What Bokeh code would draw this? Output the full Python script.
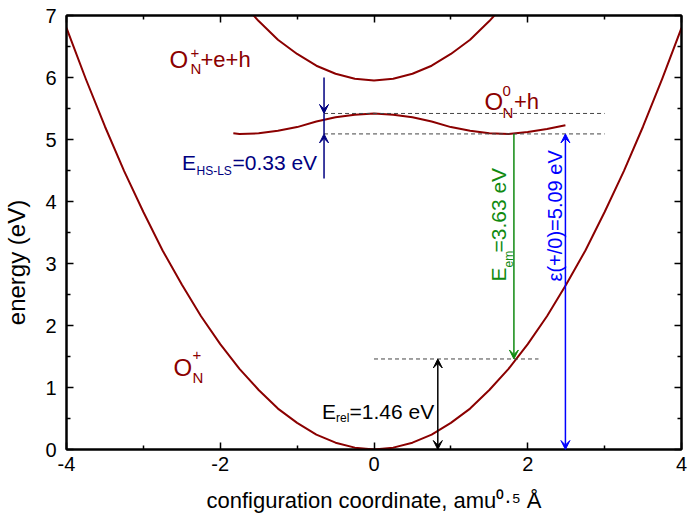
import numpy as np
from bokeh.plotting import figure
from bokeh.models import (Range1d, FixedTicker, LinearAxis, Label, Arrow, VeeHead,
                          CustomJSTickFormatter)
from bokeh.embed import file_html
from bokeh.resources import INLINE

# ---------------- data ----------------
# ground state O_N^+ parabola
q_ground = [-4.0, -3.75, -3.5, -3.25, -3.0, -2.75, -2.5, -2.25, -2.0, -1.75, -1.5, -1.25,
            -1.0, -0.75, -0.5, -0.25, 0.0, 0.25, 0.5, 0.75, 1.0, 1.25, 1.5, 1.75, 2.0,
            2.25, 2.5, 2.75, 3.0, 3.25, 3.5, 3.75, 4.0]
e_ground = [6.80, 5.98, 5.21, 4.49, 3.83, 3.21, 2.66, 2.15, 1.70, 1.30, 0.96, 0.66,
            0.43, 0.24, 0.11, 0.03, 0.00, 0.03, 0.11, 0.24, 0.43, 0.66, 0.96, 1.30, 1.70,
            2.15, 2.66, 3.21, 3.83, 4.49, 5.21, 5.98, 6.80]
# O_N^+ + e + h parabola
q_excited = [-1.75, -1.5, -1.25, -1.0, -0.75, -0.5, -0.25, 0.0, 0.25, 0.5, 0.75, 1.0,
             1.25, 1.5, 1.75]
e_excited = [7.25, 6.91, 6.61, 6.38, 6.19, 6.06, 5.98, 5.95, 5.98, 6.06, 6.19, 6.38,
             6.61, 6.91, 7.25]
# O_N^0 + h double well
q_neutral = [-1.83, -1.75, -1.5, -1.25, -1.0, -0.75, -0.5, -0.25, 0.0, 0.25, 0.5, 0.75,
             1.0, 1.25, 1.5, 1.75, 2.0, 2.25, 2.49]
e_neutral = [5.10, 5.09, 5.10, 5.14, 5.20, 5.29, 5.36, 5.40, 5.42, 5.40, 5.36, 5.29,
             5.20, 5.14, 5.10, 5.09, 5.12, 5.17, 5.23]

# energies (eV)
E_max_neutral = 5.42
eps_level = 5.09
E_rel = 1.46
E_zero = 0.0
E_hs_top = 6.0
E_hs_bottom = 4.37
# arrow coordinates (configuration coordinate)
q_hs = -0.65
q_rel = 0.83
q_em = 1.82
q_eps = 2.49
q_dash_hi = [-0.65, 3.0]
q_dash_lo = [0.0, 2.14]

x_ticks = [-4, -2, 0, 2, 4]
x_tick_labels = ["-4", "-2", "0", "2", "4"]
x_minor = [-3, -1, 1, 3]
y_ticks = [0, 1, 2, 3, 4, 5, 6, 7]
y_tick_labels = ["0", "1", "2", "3", "4", "5", "6", "7"]
y_minor = [0.5, 1.5, 2.5, 3.5, 4.5, 5.5, 6.5]

x_title = "configuration coordinate, amu\u2070\u00b7\u2075 \u00c5"
y_title = "energy (eV)"

FONT = "Liberation Sans"
WINE = "#8b0000"
NAVY = "#000080"
GREEN = "#108a10"
BLUE = "#0000ff"

p = figure(width=692, height=521, output_backend="svg", toolbar_location=None,
           x_range=Range1d(-4, 4), y_range=Range1d(0, 7),
           min_border_left=66, min_border_right=11, min_border_top=15, min_border_bottom=72)
p.xgrid.visible = False
p.ygrid.visible = False
p.outline_line_color = "black"
p.outline_line_width = 2
p.background_fill_color = "white"
p.border_fill_color = "white"


def style_axis(ax, ticks, minor, tick_labels=None):
    ax.ticker = FixedTicker(ticks=ticks, minor_ticks=minor)
    ax.major_tick_in = 7
    ax.major_tick_out = 0
    ax.minor_tick_in = 4
    ax.minor_tick_out = 0
    ax.axis_line_width = 2
    ax.major_tick_line_width = 1.5
    ax.minor_tick_line_width = 1.5
    ax.axis_line_color = "black"
    if tick_labels is not None:
        ax.major_label_overrides = {t: s for t, s in zip(ticks, tick_labels)}
        ax.major_label_text_font = FONT
        ax.major_label_text_font_size = "20px"
        ax.major_label_text_color = "black"
        ax.major_label_standoff = 7
        ax.axis_label_text_font = FONT
        ax.axis_label_text_font_style = "normal"
        ax.axis_label_text_color = "black"
    else:
        ax.formatter = CustomJSTickFormatter(code="return ''")
        ax.major_label_text_font_size = "0px"
        ax.major_label_standoff = 0


style_axis(p.xaxis[0], x_ticks, x_minor, x_tick_labels)
style_axis(p.yaxis[0], y_ticks, y_minor, y_tick_labels)
p.yaxis[0].major_label_standoff = 10
# trailing no-break spaces push the rotated title a little below the frame centre
p.yaxis[0].axis_label = y_title + "\u00a0" * 9
p.yaxis[0].axis_label_text_font_size = "24px"
p.yaxis[0].axis_label_standoff = 12
p.xaxis[0].axis_label = x_title
p.xaxis[0].axis_label_text_font_size = "22px"
p.xaxis[0].axis_label_standoff = 14

top = LinearAxis()
style_axis(top, x_ticks, x_minor)
p.add_layout(top, "above")
right = LinearAxis()
style_axis(right, y_ticks, y_minor)
p.add_layout(right, "right")

# curves
p.line(q_ground, e_ground, line_color=WINE, line_width=2, line_join="round")
p.line(q_excited, e_excited, line_color=WINE, line_width=2, line_join="round")
p.line(q_neutral, e_neutral, line_color=WINE, line_width=2, line_join="round")

# dashed reference lines
for lev in (E_max_neutral, eps_level):
    p.line(q_dash_hi, [lev, lev], line_color="#444444", line_width=1, line_dash="4 3")
p.line(q_dash_lo, [E_rel, E_rel], line_color="#444444", line_width=1, line_dash="4 3")


def arrow(x0, y0, x1, y1, color, both=False, width=1.5):
    head = VeeHead(size=9, fill_color=color, line_color=color, line_width=1)
    start = VeeHead(size=9, fill_color=color, line_color=color, line_width=1) if both else None
    p.add_layout(Arrow(x_start=x0, y_start=y0, x_end=x1, y_end=y1, end=head, start=start,
                       line_color=color, line_width=width))


# HS-LS arrows
p.line([q_hs, q_hs], [E_max_neutral, eps_level], line_color=NAVY, line_width=1.5)
arrow(q_hs, E_hs_top, q_hs, E_max_neutral, NAVY)
arrow(q_hs, E_hs_bottom, q_hs, eps_level, NAVY)
# emission
arrow(q_em, eps_level, q_em, E_rel, GREEN)
# charge transition level
arrow(q_eps, E_zero, q_eps, eps_level, BLUE, both=True)
# relaxation
arrow(q_rel, E_zero, q_rel, E_rel, "black", both=True)


def lab(x, y, text, size, color, angle=0.0):
    p.add_layout(Label(x=x, y=y, text=text, text_font=FONT, text_font_size=f"{size}px",
                       text_color=color, text_align="left", text_baseline="alphabetic",
                       angle=angle))


# O_N^+ + e + h
lab(-2.66, 6.29, "O", 24, WINE)
lab(-2.387, 6.40, "+", 15, WINE)
lab(-2.387, 6.145, "N", 15, WINE)
lab(-2.257, 6.29, "+e+h", 22, WINE)
# O_N^0 + h
lab(1.437, 5.61, "O", 24, WINE)
lab(1.672, 5.79, "0", 15, WINE)
lab(1.672, 5.435, "N", 15, WINE)
lab(1.821, 5.61, "+h", 22, WINE)
# O_N^+
lab(-2.608, 1.323, "O", 24, WINE)
lab(-2.361, 1.53, "+", 15, WINE)
lab(-2.361, 1.161, "N", 15, WINE)
# E_HS-LS
lab(-2.4976, 4.629, "E", 21, NAVY)
lab(-2.309, 4.50, "HS-LS", 12, NAVY)
lab(-1.841, 4.629, "=0.33 eV", 21, NAVY)
# E_rel
lab(-0.676, 0.613, "E", 21, "black")
lab(-0.494, 0.516, "rel", 12, "black")
lab(-0.319, 0.613, "=1.46 eV", 21, "black")
# E_em (rotated)
ang = np.pi / 2
lab(1.6195, 2.71, "E", 21, GREEN, ang)
lab(1.75, 2.935, "em", 12, GREEN, ang)
lab(1.6195, 3.177, "=3.63 eV", 21, GREEN, ang)
# eps(+/0)
lab(2.354, 2.71, "\u03b5(+/0)=5.09 eV", 20, BLUE, ang)

open("out.html", "w").write(file_html(p, INLINE))
